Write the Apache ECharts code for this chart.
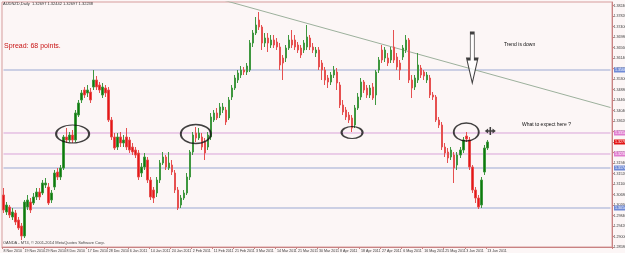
<!DOCTYPE html>
<html>
<head>
<meta charset="utf-8">
<script src="https://cdn.jsdelivr.net/npm/echarts@6/dist/echarts.min.js"></script>
<style>
  html, body { margin: 0; padding: 0; background: #fcf6f6; }
  #chart { width: 625px; height: 253px; }
</style>
</head>
<body>
<div id="chart"></div>
<script>
// AUDNZD daily, [open, close, low, high]
var ohlc = [
  [1.3066,1.3006,1.2994,1.3094],[1.2998,1.3026,1.2986,1.3038],[1.3018,1.2986,1.2974,1.3026],[1.2978,1.2998,1.2966,1.3014],
  [1.2994,1.2958,1.2946,1.3006],[1.2966,1.2934,1.2926,1.2978],[1.2942,1.2902,1.2886,1.2954],[1.2902,1.3038,1.2894,1.3046],
  [1.3018,1.3046,1.3006,1.3066],[1.3038,1.3006,1.2994,1.3054],[1.3034,1.3058,1.3026,1.3074],[1.3058,1.3078,1.3046,1.3094],
  [1.3078,1.3058,1.3046,1.3094],[1.3074,1.3114,1.3066,1.3126],[1.3106,1.3114,1.3094,1.3134],[1.3098,1.3034,1.3026,1.3114],
  [1.3046,1.3074,1.3034,1.3086],[1.3098,1.3154,1.3086,1.3166],[1.3158,1.3138,1.3126,1.3174],[1.3138,1.3174,1.3126,1.3186],
  [1.3174,1.3298,1.3166,1.3306],[1.3298,1.3286,1.3274,1.3334],[1.3286,1.3306,1.3278,1.3318],[1.3306,1.3286,1.3274,1.3326],
  [1.3286,1.3394,1.3278,1.3406],[1.3386,1.3434,1.3378,1.3446],[1.3446,1.3474,1.3434,1.3486],[1.3486,1.3466,1.3454,1.3498],
  [1.3474,1.3486,1.3458,1.3506],[1.3478,1.3446,1.3434,1.3494],[1.3498,1.3526,1.3486,1.3566],[1.3526,1.3498,1.3486,1.3542],
  [1.3506,1.3486,1.3474,1.3518],[1.3466,1.3498,1.3454,1.3514],[1.3494,1.3474,1.3458,1.3506],[1.3486,1.3366,1.3358,1.3498],
  [1.3366,1.3298,1.3286,1.3378],[1.3298,1.3254,1.3246,1.3314],[1.3258,1.3298,1.3246,1.3314],[1.3298,1.3274,1.3258,1.3318],
  [1.3274,1.3286,1.3258,1.3306],[1.3298,1.3258,1.3246,1.3334],[1.3286,1.3246,1.3234,1.3298],[1.3258,1.3238,1.3226,1.3274],
  [1.3246,1.3226,1.3214,1.3258],[1.3234,1.3138,1.3126,1.3246],[1.3154,1.3178,1.3138,1.3194],[1.3178,1.3218,1.3166,1.3234],
  [1.3206,1.3126,1.3114,1.3218],[1.3126,1.3058,1.3046,1.3138],[1.3086,1.3054,1.3034,1.3098],[1.3074,1.3126,1.3058,1.3138],
  [1.3126,1.3194,1.3114,1.3206],[1.3194,1.3218,1.3186,1.3238],[1.3218,1.3178,1.3166,1.3226],[1.3174,1.3194,1.3166,1.3238],
  [1.3186,1.3158,1.3146,1.3206],[1.3154,1.3086,1.3074,1.3166],[1.3086,1.3014,1.3006,1.3098],[1.3026,1.3054,1.3014,1.3066],
  [1.3054,1.3074,1.3046,1.3086],[1.3074,1.3138,1.3066,1.3154],[1.3138,1.3238,1.3126,1.3246],[1.3238,1.3306,1.3226,1.3318],
  [1.3314,1.3294,1.3278,1.3338],[1.3294,1.3314,1.3286,1.3334],[1.3298,1.3258,1.3246,1.3314],[1.3278,1.3234,1.3206,1.3294],
  [1.3258,1.3306,1.3246,1.3318],[1.3298,1.3378,1.3286,1.3394],[1.3366,1.3394,1.3358,1.3406],[1.3394,1.3374,1.3366,1.3414],
  [1.3386,1.3418,1.3374,1.3434],[1.3406,1.3418,1.3394,1.3434],[1.3406,1.3358,1.3346,1.3418],[1.3374,1.3446,1.3366,1.3458],
  [1.3458,1.3494,1.3446,1.3506],[1.3494,1.3534,1.3486,1.3546],[1.3526,1.3554,1.3514,1.3566],[1.3546,1.3566,1.3534,1.3582],
  [1.3566,1.3558,1.3546,1.3578],[1.3558,1.3582,1.3546,1.3594],[1.3566,1.3674,1.3558,1.3686],[1.3674,1.3714,1.3658,1.3726],
  [1.3714,1.3746,1.3706,1.3778],[1.3766,1.3738,1.3726,1.3798],[1.3738,1.3674,1.3646,1.3746],[1.3674,1.3694,1.3658,1.3714],
  [1.3694,1.3674,1.3638,1.3714],[1.3666,1.3686,1.3654,1.3706],[1.3686,1.3666,1.3654,1.3706],[1.3678,1.3658,1.3646,1.3694],
  [1.3658,1.3586,1.3566,1.3674],[1.3614,1.3594,1.3526,1.3626],[1.3614,1.3654,1.3598,1.3666],[1.3654,1.3686,1.3646,1.3706],
  [1.3686,1.3666,1.3654,1.3726],[1.3686,1.3658,1.3646,1.3706],[1.3666,1.3646,1.3634,1.3678],[1.3654,1.3626,1.3614,1.3666],
  [1.3646,1.3674,1.3634,1.3686],[1.3658,1.3698,1.3646,1.3746],[1.3694,1.3658,1.3646,1.3706],[1.3658,1.3646,1.3634,1.3674],
  [1.3634,1.3646,1.3618,1.3658],[1.3646,1.3578,1.3566,1.3658],[1.3594,1.3566,1.3526,1.3606],[1.3566,1.3526,1.3506,1.3578],
  [1.3534,1.3518,1.3494,1.3546],[1.3518,1.3546,1.3506,1.3558],[1.3546,1.3566,1.3534,1.3582],[1.3558,1.3514,1.3486,1.3574],
  [1.3506,1.3426,1.3414,1.3518],[1.3426,1.3398,1.3386,1.3446],[1.3406,1.3378,1.3366,1.3418],[1.3386,1.3366,1.3354,1.3398],
  [1.3374,1.3334,1.3318,1.3386],[1.3346,1.3414,1.3334,1.3426],[1.3414,1.3458,1.3406,1.3474],[1.3458,1.3518,1.3446,1.3534],
  [1.3518,1.3486,1.3474,1.3526],[1.3494,1.3466,1.3454,1.3506],[1.3466,1.3494,1.3454,1.3506],[1.3498,1.3454,1.3446,1.3514],
  [1.3466,1.3558,1.3426,1.3566],[1.3566,1.3606,1.3554,1.3618],[1.3646,1.3606,1.3594,1.3666],[1.3614,1.3646,1.3598,1.3658],
  [1.3614,1.3594,1.3582,1.3634],[1.3606,1.3646,1.3594,1.3658],[1.3658,1.3606,1.3594,1.3726],[1.3618,1.3578,1.3566,1.3634],
  [1.3594,1.3566,1.3526,1.3606],[1.3618,1.3654,1.3606,1.3666],[1.3646,1.3686,1.3634,1.3706],[1.3686,1.3526,1.3514,1.3694],
  [1.3526,1.3494,1.3454,1.3546],[1.3498,1.3534,1.3486,1.3546],[1.3526,1.3586,1.3514,1.3634],[1.3574,1.3546,1.3534,1.3586],
  [1.3558,1.3542,1.3526,1.3566],[1.3526,1.3546,1.3514,1.3558],[1.3534,1.3466,1.3454,1.3546],[1.3466,1.3458,1.3446,1.3478],
  [1.3458,1.3366,1.3358,1.3466],[1.3366,1.3346,1.3334,1.3378],[1.3346,1.3258,1.3246,1.3358],[1.3258,1.3234,1.3218,1.3274],
  [1.3238,1.3214,1.3194,1.3254],[1.3218,1.3246,1.3206,1.3258],[1.3226,1.3174,1.3114,1.3238],[1.3186,1.3226,1.3166,1.3238],
  [1.3226,1.3246,1.3214,1.3258],[1.3246,1.3286,1.3234,1.3298],[1.3302,1.3290,1.3278,1.3318],[1.3286,1.3178,1.3166,1.3298],
  [1.3178,1.3086,1.3074,1.3186],[1.3086,1.3054,1.3034,1.3098],[1.3054,1.3018,1.3010,1.3066],[1.3026,1.3126,1.3014,1.3138],
  [1.3158,1.3254,1.3146,1.3266],[1.3254,1.3278,1.3246,1.3286]
];

var dateLabels = ['8 Nov 2010','19 Nov 2010','29 Nov 2010','8 Dec 2010','17 Dec 2010','28 Dec 2010','6 Jan 2011',
  '14 Jan 2011','24 Jan 2011','2 Feb 2011','11 Feb 2011','21 Feb 2011','3 Mar 2011','14 Mar 2011','21 Mar 2011',
  '30 Mar 2011','8 Apr 2011','18 Apr 2011','27 Apr 2011','6 May 2011','16 May 2011','25 May 2011','3 Jun 2011','13 Jun 2011'];
var labelEvery = 7;
var slotCount = 203;   // bars + chart shift on the right

// horizontal levels drawn on the chart
var blueLevels = [1.3566, 1.3174, 1.3014];
var pinkLevels = [1.3314, 1.3230];
// trend line anchors [bar, price]
var trendA = [73, 1.3846];
var trendB = [202, 1.3416];
// ellipse centres [bar, price]
var circles = [[23, 1.3310], [64, 1.3310], [116, 1.3316], [154, 1.3318]];
var circleSizes = [[33, 18], [30, 19], [21, 12], [25, 18]];
var arrowAt = [156, 1.3614];
var crossAt = [162, 1.3322];

var yMin = 1.2858, yMax = 1.3838, yStep = 0.0042;

var xCats = [];
for (var i = 0; i < slotCount; i++) xCats.push(String(i));
function isLabelSlot(i) { return i % labelEvery === 0 && (i / labelEvery) < dateLabels.length; }

// a horizontal level as a two-point line series with its price tag on the axis
function levelSeries(v, lineColor, tagColor, hideLine) {
  return {
    type: 'line',
    data: [[0, v], [slotCount - 1, v]],
    symbol: 'none',
    silent: true,
    z: 1,
    lineStyle: { color: lineColor, width: 1, opacity: hideLine ? 0 : 1 },
    endLabel: {
      show: true, distance: 3.5, fontSize: 3.6, color: '#ffffff', backgroundColor: tagColor, padding: [0.5, 1],
      formatter: function () { return v.toFixed(5); }
    }
  };
}

var levelList = [];
blueLevels.forEach(function (v) { levelList.push(levelSeries(v, '#9ba8d2', '#6f8ad6', false)); });
pinkLevels.forEach(function (v) { levelList.push(levelSeries(v, '#d9a3d9', '#e07ccf', false)); });
var lastClose = ohlc[ohlc.length - 1][1];
levelList.push(levelSeries(lastClose, '#e21414', '#e21414', true));

var chart = echarts.init(document.getElementById('chart'));
var fontFam = 'Liberation Sans, Arial, sans-serif';

chart.setOption({
  backgroundColor: '#fcf6f6',
  animation: false,
  textStyle: { fontFamily: fontFam },
  grid: { left: 2, right: 13, top: 2, bottom: 6, show: true, borderColor: '#d69c9c', borderWidth: 1,
    containLabel: false, outerBoundsMode: 'none' },
  xAxis: {
    type: 'category',
    data: xCats,
    boundaryGap: true,
    axisLine: { show: true, lineStyle: { color: '#c98282', width: 1 } },
    axisTick: { show: true, interval: isLabelSlot, length: 2, lineStyle: { color: '#c98282' } },
    axisLabel: {
      interval: isLabelSlot, fontSize: 3.6, color: '#3a3a3a', margin: 1.5, align: 'left',
      formatter: function (v, idx) { return isLabelSlot(idx) ? dateLabels[idx / labelEvery] : ''; }
    },
    splitLine: { show: false }
  },
  yAxis: {
    type: 'value',
    position: 'right',
    min: yMin, max: yMax, interval: yStep,
    axisLine: { show: true, lineStyle: { color: '#c98282' } },
    axisTick: { show: true, length: 2, lineStyle: { color: '#c98282' } },
    axisLabel: { fontSize: 3.6, color: '#3a3a3a', margin: 1.5, formatter: function (v) { return v.toFixed(5); } },
    splitLine: { show: false }
  },
  series: levelList.concat([
    {
      type: 'candlestick',
      data: ohlc,
      barWidth: 2,
      z: 3,
      itemStyle: { color: '#0d7a0d', color0: '#e81616', borderColor: '#3f973f', borderColor0: '#e65050', borderWidth: 1 }
    },
    {
      type: 'line',
      data: [trendA, trendB],
      symbol: 'none',
      lineStyle: { color: '#9cb09c', width: 1 },
      silent: true
    },
    {
      type: 'scatter',
      data: circles.map(function (c, k) { return { value: c, symbolSize: circleSizes[k] }; }),
      symbol: 'circle',
      z: 4,
      itemStyle: { color: 'rgba(0,0,0,0)', borderColor: '#111111', borderWidth: 1.6 },
      silent: true
    },
    {
      type: 'scatter',
      data: [arrowAt],
      symbol: 'path://M3.5,0 L7.5,0 L7.5,26 L11,26 L5.5,50 L0,26 L3.5,26 Z',
      symbolSize: [11, 50],
      z: 4,
      itemStyle: { color: '#ffffff', borderColor: '#111111', borderWidth: 1.5 },
      silent: true
    },
    {
      type: 'scatter',
      data: [crossAt],
      symbol: 'path://M0,4 L3,1.5 L3,3.2 L4.3,3.2 L4.3,0 L5.7,0 L5.7,3.2 L7,3.2 L7,1.5 L10,4 L7,6.5 L7,4.8 L5.7,4.8 L5.7,8 L4.3,8 L4.3,4.8 L3,4.8 L3,6.5 Z',
      symbolSize: [11, 8],
      z: 4,
      itemStyle: { color: '#111111' },
      silent: true
    }
  ]),
  graphic: [
    { type: 'text', left: 3, top: 1.5, style: { text: 'AUDNZD,Daily  1.32697 1.32442 1.32697 1.32238', fontSize: 4, fill: '#333', fontFamily: fontFam } },
    { type: 'text', left: 4, top: 43, style: { text: 'Spread: 68 points.', fontSize: 7, fill: '#c81414', fontFamily: fontFam } },
    { type: 'text', left: 504, top: 42, style: { text: 'Trend is down', fontSize: 5, fill: '#111', fontFamily: fontFam } },
    { type: 'text', left: 522, top: 122, style: { text: 'What to expect here ?', fontSize: 5, fill: '#111', fontFamily: fontFam } },
    { type: 'text', left: 3, top: 241, style: { text: 'OANDA - MT4, \u00a9 2001-2014 MetaQuotes Software Corp.', fontSize: 4, fill: '#444', fontFamily: fontFam } }
  ]
});
</script>
</body>
</html>
